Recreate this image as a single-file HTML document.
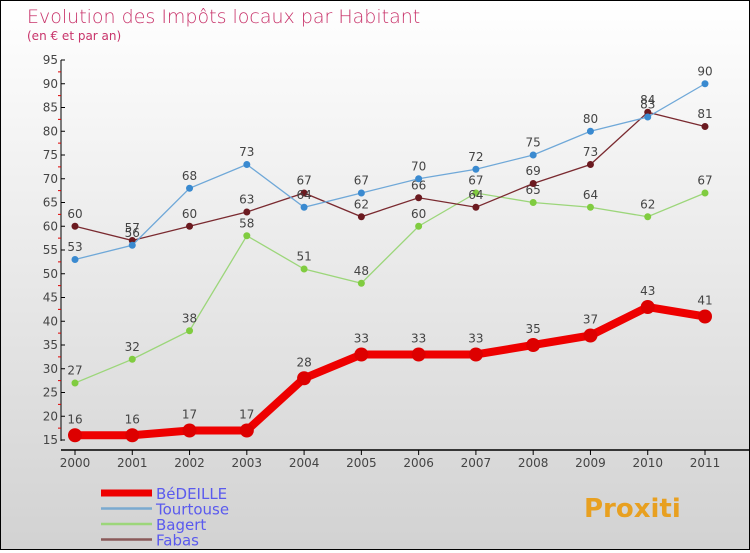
<!DOCTYPE html>
<html><head><meta charset="utf-8"><style>
body{margin:0}
#c{width:748px;height:548px;border:1px solid #000;background:linear-gradient(#fff,#d2d2d2);position:relative;font-family:"DejaVu Sans","Liberation Sans",sans-serif}
text{font-family:"DejaVu Sans","Liberation Sans",sans-serif}
</style></head><body>
<div id="c">
<svg id="s" width="748" height="548">
<text x="26" y="22" font-size="19" fill="#c8336a" style="font-weight:200">Evolution des Impôts locaux par Habitant</text>
<text x="26" y="39" font-size="12" fill="#c8336a">(en € et par an)</text>
</svg></div>
<script>
const years=["2000","2001","2002","2003","2004","2005","2006","2007","2008","2009","2010","2011"];
const bedeille=[16,16,17,17,28,33,33,33,35,37,43,41];
const tourtouse=[53,56,68,73,64,67,70,72,75,80,83,90];
const bagert=[27,32,38,58,51,48,60,67,65,64,62,67];
const fabas=[60,57,60,63,67,62,66,64,69,73,84,81];
const yTicks=[15,20,25,30,35,40,45,50,55,60,65,70,75,80,85,90,95];
const NS="http://www.w3.org/2000/svg",s=document.getElementById('s');
const X=i=>74+i*(630/11), Y=v=>439-(v-15)*(380/80);
function el(t,a,p){const e=document.createElementNS(NS,t);for(const k in a)e.setAttribute(k,a[k]);(p||s).appendChild(e);return e;}
let ax=el('line',{x1:60,y1:Y(95),x2:60,y2:Y(15)+1,stroke:'#000'});

let bx=el('line',{x1:60,y1:449,x2:748,y2:449,stroke:'#000','stroke-width':1.5});

yTicks.forEach(v=>{let y=Y(v);el('line',{x1:60,y1:y,x2:64,y2:y,stroke:'#000'});
 if(v<95)el('line',{x1:57,y1:Y(v+2.5),x2:60,y2:Y(v+2.5),stroke:'#d00'});
 let t=el('text',{x:57,y:y+4,'font-size':12,fill:'#444','text-anchor':'end'});t.textContent=v;
 });
years.forEach((yr,i)=>{el('line',{x1:X(i),y1:449,x2:X(i),y2:454,stroke:'#000'});
 let t=el('text',{x:X(i),y:466,'font-size':12,fill:'#444','text-anchor':'middle'});t.textContent=yr;
 });
function series(d,col,dot,w,r,name){
 let g=el('g',{});
 el('polyline',{points:d.map((v,i)=>X(i)+','+Y(v)).join(' '),fill:'none',stroke:col,'stroke-width':w},g);
 d.forEach((v,i)=>{let c=el('circle',{cx:X(i),cy:Y(v),r:r,fill:dot},g);
  
  let t=el('text',{x:X(i),y:Y(v)-(r+5),'font-size':12,fill:'#444','text-anchor':'middle'},g);t.textContent=v;
  });
}
series(bagert,'#9cd67a','#80cc40',1.3,3.5,'bagert');
series(fabas,'#7a2a30','#6b1a20',1.3,3.5,'fabas');
series(tourtouse,'#6fa8d8','#3a8ad0',1.3,3.5,'tourtouse');
series(bedeille,'#ee0000','#dd0000',8,7,'bedeille');
const leg=[["BéDEILLE","#ee0000",7],["Tourtouse","#7aaad0",2.5],["Bagert","#9cd67a",2.5],["Fabas","#8a5a5a",2.5]];
leg.forEach((l,i)=>{let y=492+i*15.5;let g=el('g',{});
 el('line',{x1:100,y1:y,x2:151,y2:y,stroke:l[1],'stroke-width':l[2]},g);
 let t=el('text',{x:155,y:y+6,'font-size':15,fill:'#5a5aee'},g);t.textContent=l[0];});
let lg=el('text',{x:583,y:516,'font-size':26,'font-weight':'bold',fill:'#e8a020'});lg.textContent='Proxiti';

</script></body></html>
